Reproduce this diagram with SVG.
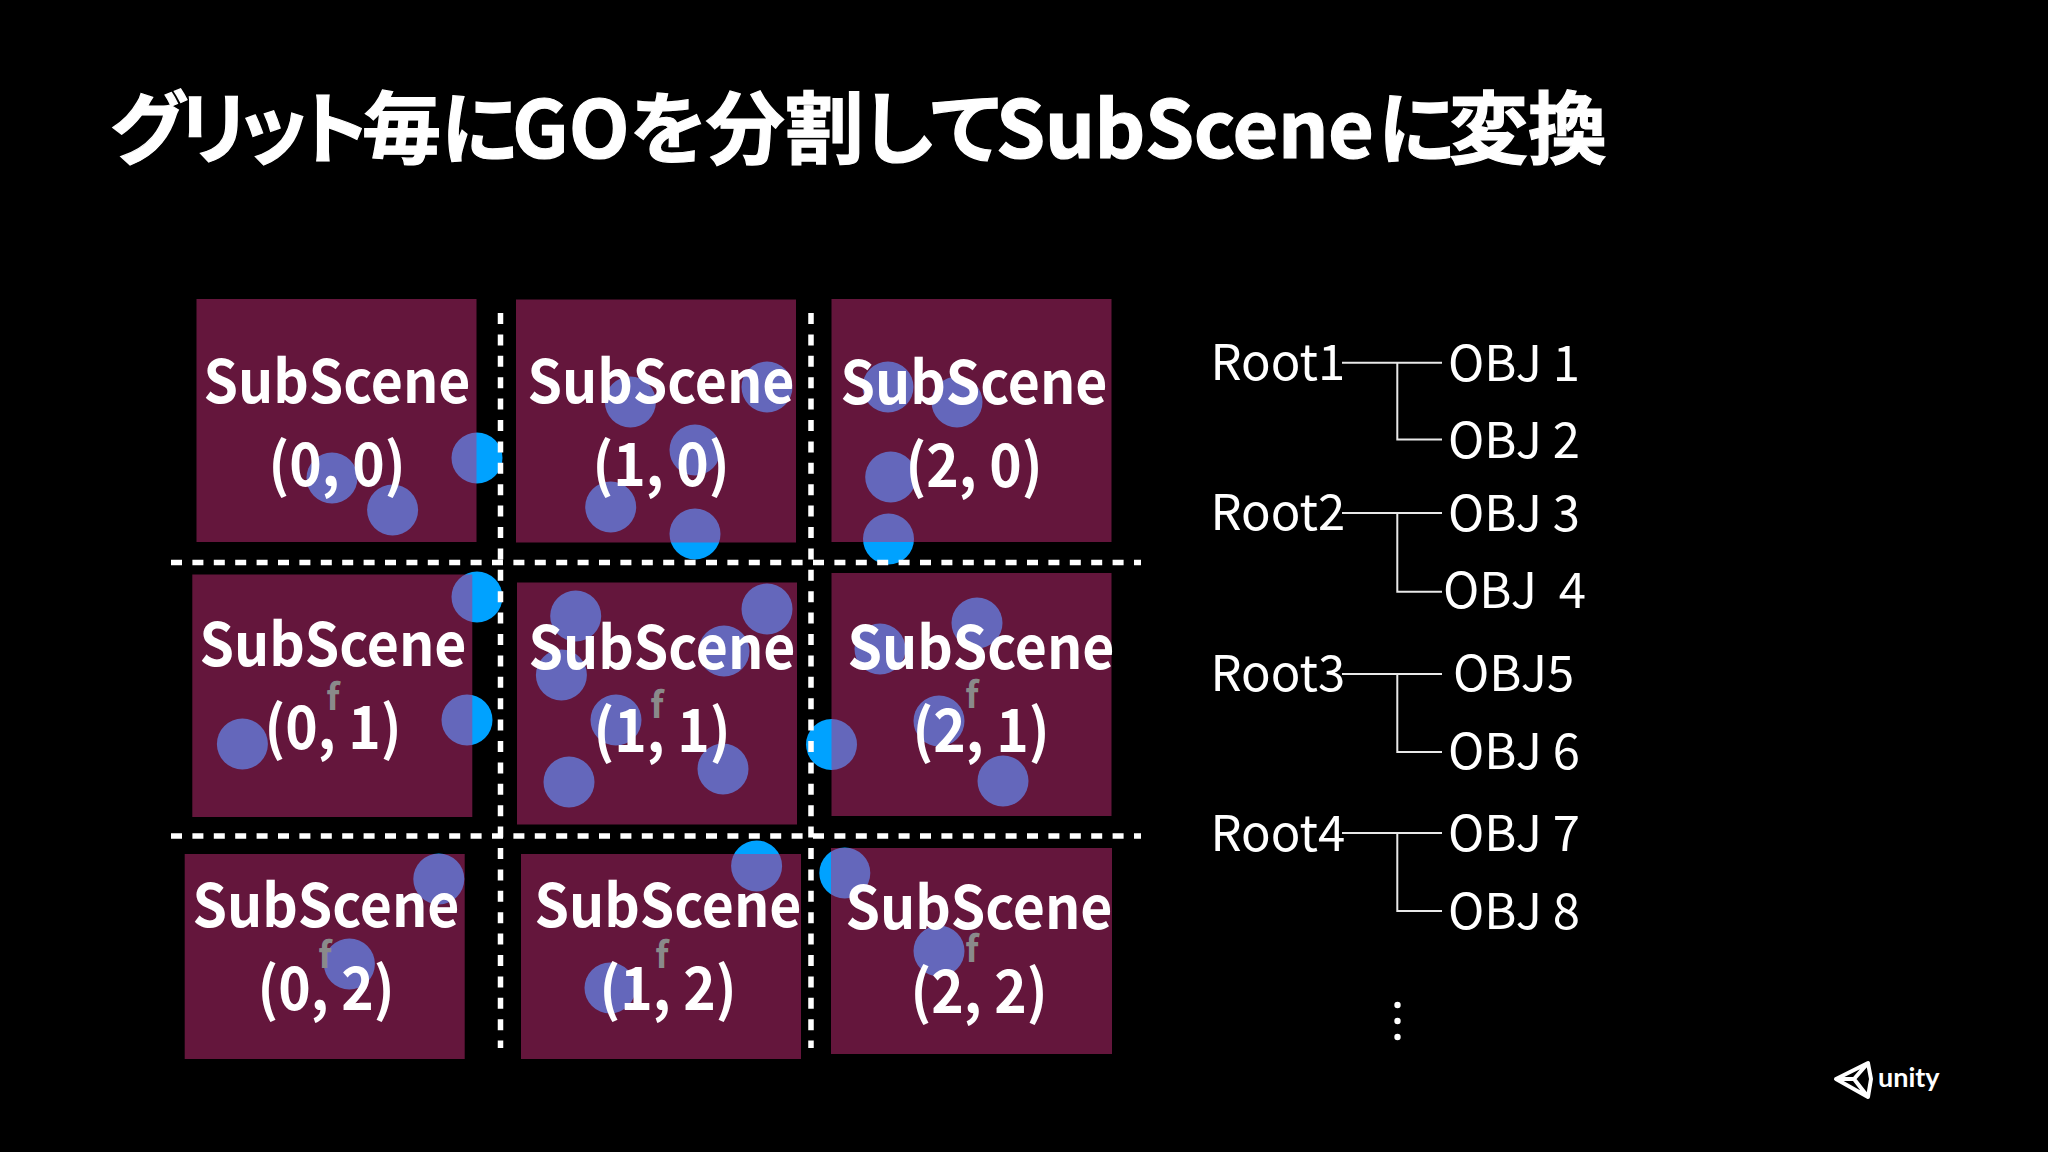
<svg xmlns="http://www.w3.org/2000/svg" width="2048" height="1152" viewBox="0 0 2048 1152">
<defs><style>
text{font-family:"Noto Sans CJK JP","Noto Sans",sans-serif;fill:#fff;white-space:pre}
.t{font-size:79px;font-weight:700;font-feature-settings:"palt";stroke:#fff;stroke-width:1.2}
.s{font-size:59px;font-weight:700;text-anchor:middle}
.r{fill:#c82c78;fill-opacity:.5}
.c{fill:#00a2ff}
.f{font-size:36px;font-weight:700;fill:#8a8a8a;text-anchor:middle}
.l{font-size:49px;font-weight:400}
.d{stroke:#fff;stroke-width:5.5;fill:none;stroke-dasharray:11 10.4}
.w{stroke:#e8e8e8;stroke-width:2;fill:none}
</style></defs>
<rect width="2048" height="1152" fill="#000"/>
<text id="title" class="t" y="158"><tspan x="110" letter-spacing="-6">グリット</tspan><tspan x="362">毎に</tspan><tspan x="512">GO</tspan><tspan x="630">を分割して</tspan><tspan x="996" letter-spacing="-0.5">SubScene</tspan><tspan x="1378">に</tspan><tspan x="1449">変換</tspan></text>
<g id="objects">
<circle class="c" cx="477" cy="458" r="25.5"/><circle class="c" cx="332" cy="478" r="25.5"/><circle class="c" cx="392.6" cy="510" r="25.5"/>
<circle class="c" cx="630.4" cy="402" r="25.5"/><circle class="c" cx="767" cy="387" r="25.5"/><circle class="c" cx="695" cy="450" r="25.5"/><circle class="c" cx="610.7" cy="507" r="25.5"/><circle class="c" cx="695" cy="534" r="25.5"/>
<circle class="c" cx="888" cy="387" r="25.5"/><circle class="c" cx="957" cy="402" r="25.5"/><circle class="c" cx="890.7" cy="477" r="25.5"/><circle class="c" cx="888.5" cy="539" r="25.5"/>
<circle class="c" cx="477" cy="597" r="25.5"/><circle class="c" cx="467" cy="720" r="25.5"/><circle class="c" cx="242.4" cy="744" r="25.5"/>
<circle class="c" cx="575.7" cy="616" r="25.5"/><circle class="c" cx="767" cy="609" r="25.5"/><circle class="c" cx="724" cy="651" r="25.5"/><circle class="c" cx="561.4" cy="675" r="25.5"/><circle class="c" cx="616" cy="720" r="25.5"/><circle class="c" cx="723" cy="769" r="25.5"/><circle class="c" cx="569" cy="782" r="25.5"/>
<circle class="c" cx="831.5" cy="744.5" r="25.5"/><circle class="c" cx="880" cy="649" r="25.5"/><circle class="c" cx="977" cy="623" r="25.5"/><circle class="c" cx="939" cy="721" r="25.5"/><circle class="c" cx="1003" cy="781" r="25.5"/>
<circle class="c" cx="438.8" cy="879" r="25.5"/><circle class="c" cx="349.4" cy="964" r="25.5"/><circle class="c" cx="756.6" cy="866" r="25.5"/><circle class="c" cx="610" cy="988" r="25.5"/><circle class="c" cx="844.8" cy="873" r="25.5"/><circle class="c" cx="939" cy="951" r="25.5"/>
</g>
<g id="connectors">
<path class="d" d="M500.5 313V1048M811 313V1048M171 562.5H1141M171 836H1141"/>
<path class="w" d="M1342 362.7H1442M1397.3 362.7V439.5H1442M1342 513H1442M1397.3 513V591.7H1442M1342 674H1442M1397.3 674V752H1442M1342 833H1442M1397.3 833V911H1442"/>
</g>
<g id="s00"><rect class="r" x="196.5" y="299" width="280" height="243"/><text class="s" x="337" y="403" textLength="267" lengthAdjust="spacingAndGlyphs">SubScene</text><text class="s" x="337" y="486" textLength="137" lengthAdjust="spacingAndGlyphs">(0, 0)</text></g>
<g id="s10"><rect class="r" x="516" y="299.5" width="280" height="243"/><text class="s" x="661" y="403" textLength="267" lengthAdjust="spacingAndGlyphs">SubScene</text><text class="s" x="661" y="486" textLength="137" lengthAdjust="spacingAndGlyphs">(1, 0)</text></g>
<g id="s20"><rect class="r" x="831.5" y="299" width="280" height="243"/><text class="s" x="974" y="404" textLength="267" lengthAdjust="spacingAndGlyphs">SubScene</text><text class="s" x="974" y="487" textLength="137" lengthAdjust="spacingAndGlyphs">(2, 0)</text></g>
<g id="s01"><rect class="r" x="192.3" y="574.5" width="280" height="242.5"/><text class="f" x="333" y="710">f</text><text class="s" x="333" y="666" textLength="267" lengthAdjust="spacingAndGlyphs">SubScene</text><text class="s" x="333" y="749" textLength="137" lengthAdjust="spacingAndGlyphs">(0, 1)</text></g>
<g id="s11"><rect class="r" x="517" y="582.5" width="280" height="242"/><text class="f" x="657" y="718">f</text><text class="s" x="662" y="669" textLength="267" lengthAdjust="spacingAndGlyphs">SubScene</text><text class="s" x="662" y="752" textLength="137" lengthAdjust="spacingAndGlyphs">(1, 1)</text></g>
<g id="s21"><rect class="r" x="831.5" y="573" width="280" height="243"/><text class="f" x="972" y="708">f</text><text class="s" x="981" y="669" textLength="267" lengthAdjust="spacingAndGlyphs">SubScene</text><text class="s" x="981" y="752" textLength="137" lengthAdjust="spacingAndGlyphs">(2, 1)</text></g>
<g id="s02"><rect class="r" x="184.7" y="854" width="280" height="205"/><text class="f" x="325" y="968">f</text><text class="s" x="326" y="927" textLength="267" lengthAdjust="spacingAndGlyphs">SubScene</text><text class="s" x="326" y="1010" textLength="137" lengthAdjust="spacingAndGlyphs">(0, 2)</text></g>
<g id="s12"><rect class="r" x="521" y="854" width="280" height="205"/><text class="f" x="662" y="968">f</text><text class="s" x="668" y="927" textLength="267" lengthAdjust="spacingAndGlyphs">SubScene</text><text class="s" x="668" y="1010" textLength="137" lengthAdjust="spacingAndGlyphs">(1, 2)</text></g>
<g id="s22"><rect class="r" x="831" y="848" width="281" height="206"/><text class="f" x="972" y="962">f</text><text class="s" x="979" y="929" textLength="267" lengthAdjust="spacingAndGlyphs">SubScene</text><text class="s" x="979" y="1013" textLength="137" lengthAdjust="spacingAndGlyphs">(2, 2)</text></g>
<g id="tree">
<text class="l" x="1210.5" y="380">Root1</text><text class="l" x="1448" y="381">OBJ 1</text><text class="l" x="1448" y="458">OBJ 2</text>
<text class="l" x="1210.5" y="530">Root2</text><text class="l" x="1448" y="531">OBJ 3</text><text class="l" x="1443" y="608">OBJ  4</text>
<text class="l" x="1210.5" y="691">Root3</text><text class="l" x="1453" y="691">OBJ5</text><text class="l" x="1448" y="769">OBJ 6</text>
<text class="l" x="1210.5" y="851">Root4</text><text class="l" x="1448" y="851">OBJ 7</text><text class="l" x="1448" y="929">OBJ 8</text>
<circle cx="1397.5" cy="1005" r="3.2" fill="#fff"/><circle cx="1397.5" cy="1021" r="3.2" fill="#fff"/><circle cx="1397.5" cy="1037" r="3.2" fill="#fff"/>
</g>
<g id="logo">
<path d="M1836 1079L1868 1063L1871 1079L1868 1097ZM1836 1079H1854L1868 1063M1854 1079L1868 1097" fill="none" stroke="#fff" stroke-width="4" stroke-linejoin="round"/>
<text x="1878" y="1087" style="font-family:Lato,sans-serif;font-size:27px;font-weight:700">unity</text>
</g>
</svg>
